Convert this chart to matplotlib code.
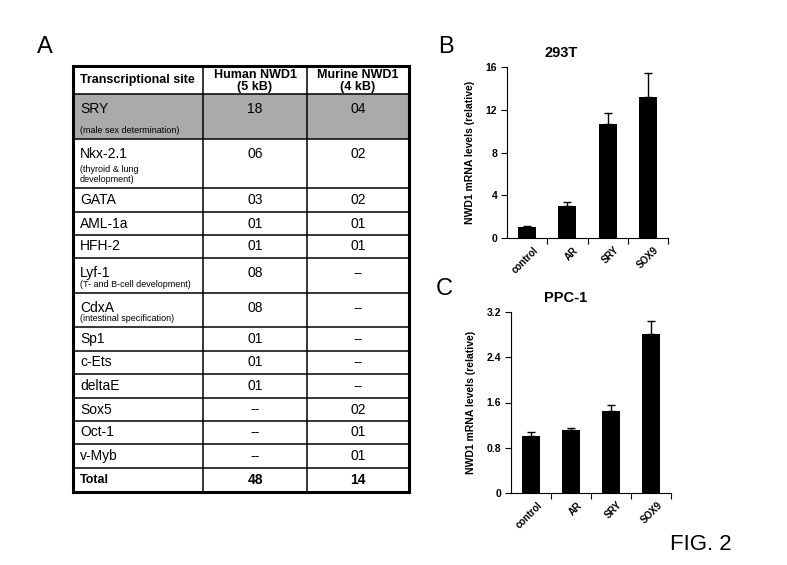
import matplotlib
matplotlib.use("Agg")
import matplotlib.pyplot as plt

plt.rcParams['font.family'] = ['Liberation Sans', 'DejaVu Sans']

# table data
sites = ["SRY", "Nkx-2.1", "GATA", "AML-1a", "HFH-2", "Lyf-1", "CdxA",
         "Sp1", "c-Ets", "deltaE", "Sox5", "Oct-1", "v-Myb", "Total"]
notes = ["(male sex determination)", "(thyroid & lung\ndevelopment)", "", "", "",
         "(T- and B-cell development)", "(intestinal specification)",
         "", "", "", "", "", "", ""]
human = ["18", "06", "03", "01", "01", "08", "08", "01", "01", "01", "--", "--", "--", "48"]
murine = ["04", "02", "02", "01", "01", "--", "--", "--", "--", "--", "02", "01", "01", "14"]

# bar chart data
genes = ["control", "AR", "SRY", "SOX9"]
b_vals = [1.03, 2.95, 10.65, 13.2]
b_err = [0.05, 0.45, 1.05, 2.2]
c_vals = [1.01, 1.11, 1.45, 2.81]
c_err = [0.07, 0.04, 0.11, 0.23]

W, H = 787, 565
fig = plt.figure(figsize=(W / 100, H / 100), dpi=100)
bg = fig.add_axes([0, 0, 1, 1])
bg.set_xlim(0, W)
bg.set_ylim(H, 0)
bg.axis("off")

# table layout (pixel coords)
cols = [73, 203, 307, 409]
rows = [66, 94, 139, 188, 212, 235, 258, 293, 327, 351, 374, 398, 421, 444, 468, 492]
tx = 80

# shaded SRY row
bg.fill_between([cols[0], cols[-1]], rows[1], rows[2], color="#aaaaaa", lw=0)

for i, y in enumerate(rows):
    lw = 2.2 if i in (0, len(rows) - 1) else 1.1
    bg.plot([cols[0] - 1, cols[-1] + 1], [y, y], color="black", lw=lw, solid_capstyle="butt")
for j, x in enumerate(cols):
    lw = 2.2 if j in (0, len(cols) - 1) else 1.1
    bg.plot([x, x], [rows[0], rows[-1]], color="black", lw=lw)

# header
bg.text(tx, (rows[0] + rows[1]) / 2, "Transcriptional site", fontsize=9,
        fontweight="bold", va="center", ha="left")
for c, (l1, l2) in enumerate([("Human NWD1", "(5 kB)"), ("Murine NWD1", "(4 kB)")]):
    xc = (cols[c + 1] + cols[c + 2]) / 2
    bg.text(xc, 75, l1, fontsize=9, fontweight="bold", va="center", ha="center")
    bg.text(xc, 87, l2, fontsize=9, fontweight="bold", va="center", ha="center")

for k in range(len(sites)):
    top, bot = rows[k + 1], rows[k + 2]
    bold = "bold" if sites[k] == "Total" else "normal"
    if notes[k]:
        ym = top + 15
        bg.text(tx, bot - 4, notes[k], fontsize=6.5, va="bottom", ha="left",
                linespacing=1.15)
    else:
        ym = (top + bot) / 2
    fs = 9 if bold == "bold" else 10
    bg.text(tx, ym, sites[k], fontsize=fs, fontweight=bold, va="center", ha="left")
    bg.text((cols[1] + cols[2]) / 2, ym, human[k], fontsize=10,
            fontweight=bold, va="center", ha="center")
    bg.text((cols[2] + cols[3]) / 2, ym, murine[k], fontsize=10,
            fontweight=bold, va="center", ha="center")

# panel letters
bg.text(37, 47, "A", fontsize=17, va="center", ha="left")
bg.text(438, 47, "B", fontsize=17, va="center", ha="left")
bg.text(436, 289, "C", fontsize=17, va="center", ha="left")
bg.text(670, 545, "FIG. 2", fontsize=16, va="center", ha="left")


def bar_panel(rect, vals, errs, ymax, yticks, ylabels, title, title_xy):
    ax = fig.add_axes(rect)
    x = range(len(genes))
    ax.bar(x, vals, width=0.45, color="black", zorder=2)
    ax.errorbar(x, vals, yerr=[[0] * len(errs), errs], fmt="none", ecolor="black",
                elinewidth=1, capsize=3, capthick=1, zorder=1)
    ax.set_xlim(-0.5, 3.5)
    ax.set_ylim(0, ymax)
    ax.set_yticks(yticks)
    ax.set_yticklabels(ylabels, fontsize=7.5, fontweight="bold")
    ax.set_xticks([0.5, 1.5, 2.5, 3.5])
    ax.set_xticklabels([])
    ax.set_xticks([i + 0.15 for i in x], minor=True)
    ax.set_xticklabels(genes, minor=True, rotation=45, ha="right", rotation_mode="anchor",
                       fontsize=7, fontweight="bold")
    ax.tick_params(axis="x", which="minor", length=0, pad=5)
    ax.tick_params(axis="x", which="major", length=4, width=0.8, direction="out")
    ax.tick_params(axis="y", length=4, width=0.8, direction="out", pad=3)
    for s in ("top", "right"):
        ax.spines[s].set_visible(False)
    ax.spines["left"].set_linewidth(0.8)
    ax.spines["bottom"].set_linewidth(0.8)
    ax.set_ylabel("NWD1 mRNA levels (relative)", fontsize=7.5, fontweight="bold", labelpad=8)
    bg.text(title_xy[0], title_xy[1], title, fontsize=10.5, fontweight="bold",
            ha="center", va="center")
    return ax


bar_panel([507 / W, 1 - 238 / H, 161 / W, 171 / H], b_vals, b_err, 16,
          [0, 4, 8, 12, 16], ["0", "4", "8", "12", "16"], "293T", (561, 53))
bar_panel([511 / W, 1 - 493 / H, 160 / W, 181 / H], c_vals, c_err, 3.2,
          [0, 0.8, 1.6, 2.4, 3.2], ["0", "0.8", "1.6", "2.4", "3.2"], "PPC-1", (566, 298))

plt.savefig("out.png", dpi=100)
plt.close()
